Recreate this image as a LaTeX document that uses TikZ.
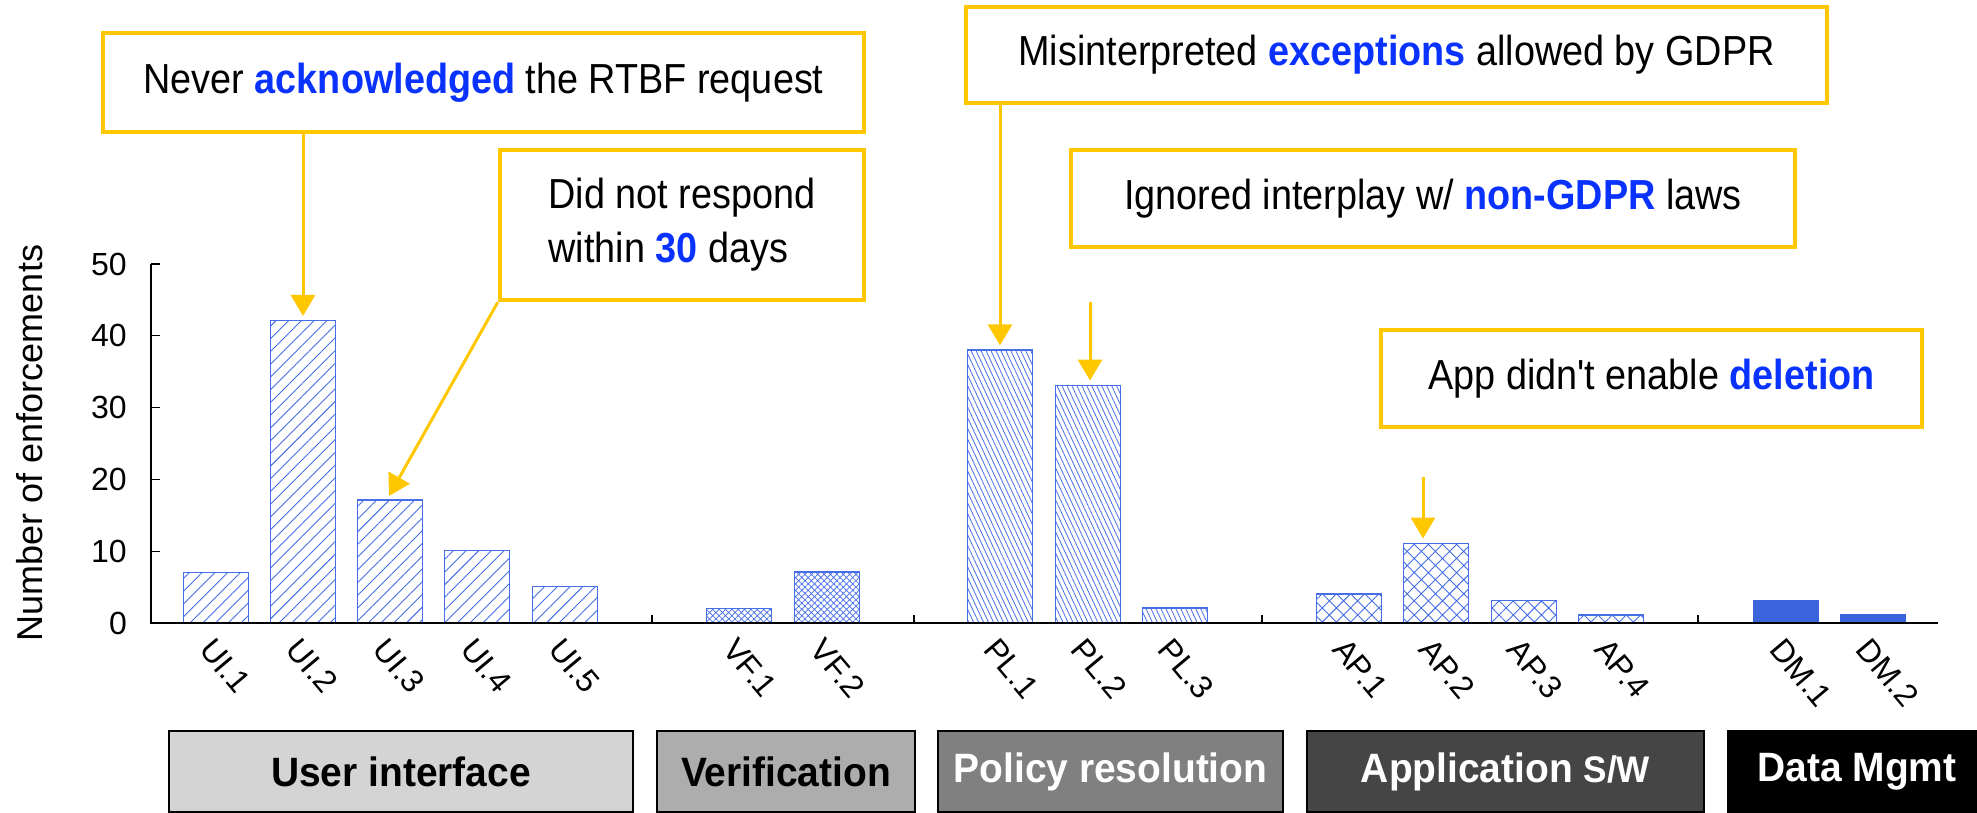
\documentclass[tikz,border=0pt]{standalone}
\usepackage{fontspec}
\setmainfont{Liberation Sans}
\newfontfamily\callfont[FakeStretch=0.9]{Liberation Sans}
\newfontfamily\catfont[FakeStretch=0.95]{Liberation Sans}
\usetikzlibrary{patterns.meta,arrows.meta}
\definecolor{callyellow}{RGB}{255,199,0}
\definecolor{barblue}{RGB}{70,110,230}
\definecolor{hlblue}{RGB}{10,50,255}
\definecolor{solidblue}{RGB}{59,99,219}
\definecolor{catA}{RGB}{212,212,212}
\definecolor{catB}{RGB}{173,173,173}
\definecolor{catC}{RGB}{128,128,128}
\definecolor{catD}{RGB}{69,69,69}
\newcommand{\hlb}[1]{\textcolor{hlblue}{\bfseries #1}}
\begin{document}
\begin{tikzpicture}[x=1pt,y=-1pt,
  bar/.style={draw=barblue, line width=1.5pt, inner sep=0pt, minimum width=65pt, anchor=south},
  uipat/.style={pattern={Lines[angle=45,distance=9pt,line width=0.9pt]}, pattern color=barblue},
  vfpat/.style={pattern={Hatch[angle=45,distance=4.5pt,line width=0.7pt]}, pattern color=barblue},
  plpat/.style={pattern={Lines[angle=-65,distance=4.5pt,line width=0.8pt]}, pattern color=barblue},
  appat/.style={pattern={Hatch[angle=45,distance=10pt,line width=0.9pt]}, pattern color=barblue},
  dmpat/.style={fill=solidblue, draw=solidblue},
  callout/.style={draw=callyellow, line width=4.5pt, fill=white, inner sep=0pt,
    font=\callfont\fontsize{42}{54}\selectfont},
  arr/.style={draw=callyellow, line width=3pt, shorten >=4pt, -{Triangle[width=24pt,length=21pt]}},
  axisline/.style={draw=black, line width=1.8pt},
  tickline/.style={draw=black, line width=1.2pt},
  numlab/.style={font=\fontsize{32}{36}\selectfont, inner sep=0pt},
  barlab/.style={font=\fontsize{32}{36}\selectfont, inner sep=0pt, anchor=north west, rotate=-50},
  catbox/.style={draw=black, line width=2.5pt, inner sep=0pt, minimum height=81pt,
    font=\catfont\bfseries\fontsize{41}{48}\selectfont}
]
\useasboundingbox[fill=white] (0,0) rectangle (1977,813);

% axes
\coordinate (origin) at (151,623);
\coordinate (ytop) at (151,264);
\coordinate (xend) at (1938,623);
\draw[axisline] (ytop) -- (origin) -- (xend);
\foreach \v in {0,1,2,3,4,5}{
  \draw[tickline] (151,623-71.8*\v) -- ++(9,0);
  \pgfmathtruncatemacro{\lab}{10*\v}
  \node[numlab, anchor=east] (ytick\v) at (127,623-71.8*\v) {\lab};
}
\foreach \x in {652,914,1262,1698}{
  \draw[tickline] (\x,623) -- ++(0,-8);
}
\node[rotate=90, anchor=base, inner sep=0pt, font=\fontsize{36}{40}\selectfont] (ylab) at (42,443) {Number of enforcements};

% bars
\node[bar, uipat, minimum height=50.26pt] (ui1) at (216,623) {};
\node[bar, uipat, minimum height=301.56pt] (ui2) at (303,623) {};
\node[bar, uipat, minimum height=122.06pt] (ui3) at (390,623) {};
\node[bar, uipat, minimum height=71.8pt] (ui4) at (477,623) {};
\node[bar, uipat, minimum height=35.9pt] (ui5) at (565,623) {};
\node[bar, vfpat, minimum height=14.36pt] (vf1) at (739,623) {};
\node[bar, vfpat, minimum height=50.26pt] (vf2) at (827,623) {};
\node[bar, plpat, minimum height=272.84pt] (pl1) at (1000,623) {};
\node[bar, plpat, minimum height=236.94pt] (pl2) at (1088,623) {};
\node[bar, plpat, minimum height=14.36pt] (pl3) at (1175,623) {};
\node[bar, appat, minimum height=28.72pt] (ap1) at (1349,623) {};
\node[bar, appat, minimum height=78.98pt] (ap2) at (1436,623) {};
\node[bar, appat, minimum height=21.54pt] (ap3) at (1524,623) {};
\node[bar, appat, minimum height=7.18pt] (ap4) at (1611,623) {};
\node[bar, dmpat, minimum height=21.54pt] (dm1) at (1786,623) {};
\node[bar, dmpat, minimum height=7.18pt] (dm2) at (1873,623) {};
\draw[axisline] (origin) -- (xend);

% bar labels
\node[barlab] (lui1) at (215,636) {UI.1};
\node[barlab] (lui2) at (302,636) {UI.2};
\node[barlab] (lui3) at (389,636) {UI.3};
\node[barlab] (lui4) at (476,636) {UI.4};
\node[barlab] (lui5) at (564,636) {UI.5};
\node[barlab] (lvf1) at (738,636) {VF.1};
\node[barlab] (lvf2) at (826,636) {VF.2};
\node[barlab] (lpl1) at (999,636) {PL.1};
\node[barlab] (lpl2) at (1087,636) {PL.2};
\node[barlab] (lpl3) at (1174,636) {PL.3};
\node[barlab] (lap1) at (1348,636) {AP.1};
\node[barlab] (lap2) at (1435,636) {AP.2};
\node[barlab] (lap3) at (1523,636) {AP.3};
\node[barlab] (lap4) at (1610,636) {AP.4};
\node[barlab] (ldm1) at (1785,636) {DM.1};
\node[barlab] (ldm2) at (1872,636) {DM.2};

% category boxes
\node[catbox, fill=catA, minimum width=464pt] (catui) at (401,771.5) {User interface};
\node[catbox, fill=catB, minimum width=258pt] (catvf) at (786,771.5) {Verification};
\node[catbox, fill=catC, minimum width=345pt, text=white] (catpl) at (1110.5,771.5) {Policy resolution};
\node[catbox, fill=catD, minimum width=397pt, text=white] (catap) at (1505.5,771.5) {Application {\fontsize{37}{44}\selectfont S/W}};
\node[catbox, fill=black, minimum width=258pt, text=white] (catdm) at (1857,771.5) {Data Mgmt};

% callouts
\node[callout, minimum width=761pt, minimum height=99pt] (never) at (483.5,82.5)
  {Never \hlb{acknowledged} the RTBF request};
\node[callout, minimum width=364pt, minimum height=150pt, align=left] (did) at (682,225)
  {Did not respond\\within \hlb{30} days};
\node[callout, minimum width=861pt, minimum height=96pt] (misint) at (1396.5,55)
  {Misinterpreted \hlb{exceptions} allowed by GDPR};
\node[callout, minimum width=724pt, minimum height=97pt] (ignored) at (1433,198.5)
  {Ignored interplay w/ \hlb{non-GDPR} laws};
\node[callout, minimum width=541pt, minimum height=97pt] (app) at (1651.5,378.5)
  {App didn't enable \hlb{deletion}};

% arrows
\coordinate (p2start) at (1090,302);
\coordinate (a2start) at (1423,477);
\draw[arr] (never.south -| ui2.north) -- (ui2.north);
\draw[arr] (did.south west) -- ([xshift=-3pt]ui3.north);
\draw[arr] (misint.south -| pl1.north) -- (pl1.north);
\draw[arr] (p2start) -- (p2start |- pl2.north);
\draw[arr] (a2start) -- (a2start |- ap2.north);
\end{tikzpicture}
\end{document}
